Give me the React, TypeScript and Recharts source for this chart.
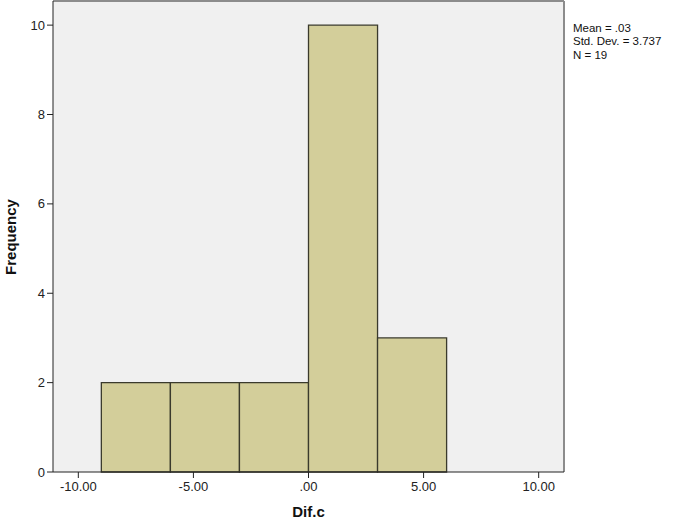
import { ComposedChart, Label, ReferenceArea, ReferenceLine, XAxis, YAxis } from "recharts";

const binStarts = [-9, -6, -3, 0, 3];
const binEnds = [-6, -3, 0, 3, 6];
const frequencies = [2, 2, 2, 10, 3];
const xTicks = [-10, -5, 0, 5, 10];
const yTicks = [0, 2, 4, 6, 8, 10];
const statLines = ["Mean = .03", "Std. Dev. = 3.737", "N = 19"];

const X_DOMAIN: [number, number] = [-11.1, 11.1];
const Y_DOMAIN: [number, number] = [0, 10.54];
const FONT = '"Liberation Sans", Arial, sans-serif';

const bins = binStarts.map((start, i) => ({
  start,
  end: binEnds[i],
  mid: (start + binEnds[i]) / 2,
  count: frequencies[i]
}));

function formatTick(value: number) {
  if (value === 0) return ".00";
  return value.toFixed(2);
}

export default function App() {
  return (
    <div style={{ position: "relative", width: 677, height: 519, background: "#fff", fontFamily: FONT }}>
      <style>{`body{margin:0}`}</style>
      <ComposedChart
        width={677}
        height={519}
        data={bins}
        margin={{ top: 1, right: 113, bottom: 0, left: 0 }}
      >
        <XAxis
          dataKey="mid"
          type="number"
          domain={X_DOMAIN}
          ticks={xTicks}
          tickFormatter={formatTick}
          height={47}
          allowDataOverflow
          stroke="#222"
          tickSize={6}
          tickMargin={4}
          tick={{ fill: "#222", fontSize: 13, fontFamily: FONT }}
        >
          <Label
            value="Dif.c"
            position="insideBottom"
            offset={2}
            style={{ fill: "#111", fontSize: 15, fontWeight: "bold", fontFamily: FONT }}
          />
        </XAxis>
        <YAxis
          type="number"
          domain={Y_DOMAIN}
          ticks={yTicks}
          width={53}
          allowDataOverflow
          stroke="#222"
          tickSize={6}
          tick={{ fill: "#222", fontSize: 13, fontFamily: FONT }}
        />
        <ReferenceArea
          x1={X_DOMAIN[0]}
          x2={X_DOMAIN[1]}
          y1={Y_DOMAIN[0]}
          y2={Y_DOMAIN[1]}
          fill="#f0f0f0"
          fillOpacity={1}
          stroke="none"
        />
        <ReferenceLine y={Y_DOMAIN[1]} stroke="#8c8c8c" strokeWidth={2} />
        <ReferenceLine x={X_DOMAIN[1]} stroke="#8c8c8c" strokeWidth={2} />
        {bins.map((b) => (
          <ReferenceArea
            key={b.start}
            x1={b.start}
            x2={b.end}
            y1={0}
            y2={b.count}
            fill="#d3ce9a"
            fillOpacity={1}
            stroke="#3a3a2c"
            strokeWidth={1.3}
          />
        ))}
      </ComposedChart>
      <div
        style={{
          position: "absolute",
          left: 10,
          top: 237,
          transform: "translate(-50%, -50%) rotate(-90deg)",
          fontSize: 15,
          fontWeight: "bold",
          color: "#111",
          whiteSpace: "nowrap"
        }}
      >
        Frequency
      </div>
      <div style={{ position: "absolute", left: 573, top: 22, fontSize: 11.5, lineHeight: "13.3px", color: "#111" }}>
        {statLines.map((line) => (
          <div key={line}>{line}</div>
        ))}
      </div>
    </div>
  );
}
